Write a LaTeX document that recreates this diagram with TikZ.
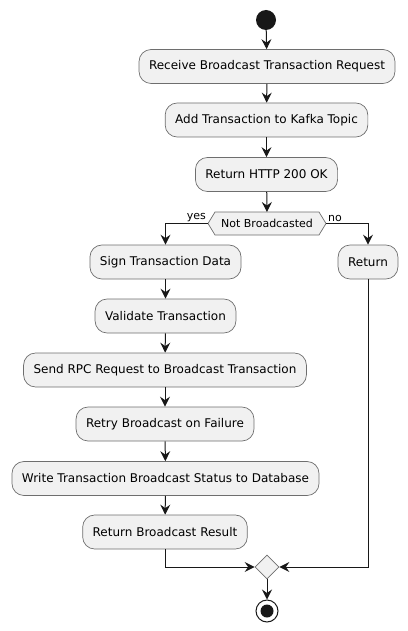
\documentclass[tikz,border=0pt]{standalone}
\usepackage{fontspec}
\setmainfont{DejaVu Sans}
\usetikzlibrary{arrows.meta,shapes.geometric}
\definecolor{boxfill}{HTML}{F1F1F1}
\definecolor{boxline}{HTML}{6E6E6E}
\definecolor{ink}{HTML}{181818}
\tikzset{
  act/.style={draw=boxline, fill=boxfill, line width=0.7pt, rounded corners=12pt,
    minimum height=34pt, inner xsep=10pt, inner ysep=0pt, font=\fontsize{12}{14}\selectfont, text=black},
  flow/.style={draw=ink, line width=1pt, -{Stealth[length=10pt,width=10pt,inset=3.5pt]}},
  plain/.style={draw=ink, line width=1pt},
  lbl/.style={font=\fontsize{11}{13}\selectfont, inner sep=1pt, text=black}
}
\begin{document}
\begin{tikzpicture}[x=1pt,y=-1pt]
\useasboundingbox (0,0) rectangle (407,631);
% start
\node[circle, fill=ink, minimum size=20pt, inner sep=0pt] (start) at (266,20) {};
\node[act] (a1) at (267,66.5) {Receive Broadcast Transaction Request};
\node[act] (a2) at (266.5,120) {Add Transaction to Kafka Topic};
\node[act] (a3) at (266.5,174.5) {Return HTTP 200 OK};
% decision hexagon
\coordinate (dl) at (208,223.5);
\coordinate (dr) at (326,223.5);
\filldraw[fill=boxfill, draw=boxline, line width=0.7pt]
  (dl) -- (215,212) -- (319,212) -- (dr) -- (319,235) -- (215,235) -- cycle;
\node[font=\fontsize{11}{13}\selectfont, inner sep=0pt] (dec) at (267,223.5) {Not Broadcasted};
\coordinate (dtop) at (267,212);
\node[lbl, anchor=south east] (yes) at (207,223) {yes};
\node[lbl, anchor=south west] (no) at (327,223) {no};
% left branch
\node[act] (b1) at (165.5,262) {Sign Transaction Data};
\node[act] (b2) at (165.5,316) {Validate Transaction};
\node[act] (b3) at (165,370) {Send RPC Request to Broadcast Transaction};
\node[act] (b4) at (165,424) {Retry Broadcast on Failure};
\node[act] (b5) at (165.5,478.5) {Write Transaction Broadcast Status to Database};
\node[act] (b6) at (165,532) {Return Broadcast Result};
% right branch
\node[act] (r1) at (368,262) {Return};
% merge
\node[diamond, draw=boxline, fill=boxfill, line width=0.7pt, minimum width=24pt, minimum height=24pt, inner sep=0pt] (m) at (267,567) {};
% end
\node[circle, draw=ink, fill=white, line width=1pt, minimum size=22pt, inner sep=0pt] (end) at (267,611) {};
\node[circle, fill=ink, minimum size=13pt, inner sep=0pt] (endin) at (end.center) {};
% connectors
\draw[flow] (start) -- (a1);
\draw[flow] (a1) -- (a2);
\draw[flow] (a2) -- (a3);
\draw[flow] (a3) -- (dtop);
\draw[flow] (dl) -| (b1);
\draw[flow] (dr) -| (r1);
\draw[flow] (b1) -- (b2);
\draw[flow] (b2) -- (b3);
\draw[flow] (b3) -- (b4);
\draw[flow] (b4) -- (b5);
\draw[flow] (b5) -- (b6);
\draw[flow] (b6) |- (m.west);
\draw[flow] (r1) |- (m.east);
\draw[flow] (m) -- (end);
\end{tikzpicture}
\end{document}
